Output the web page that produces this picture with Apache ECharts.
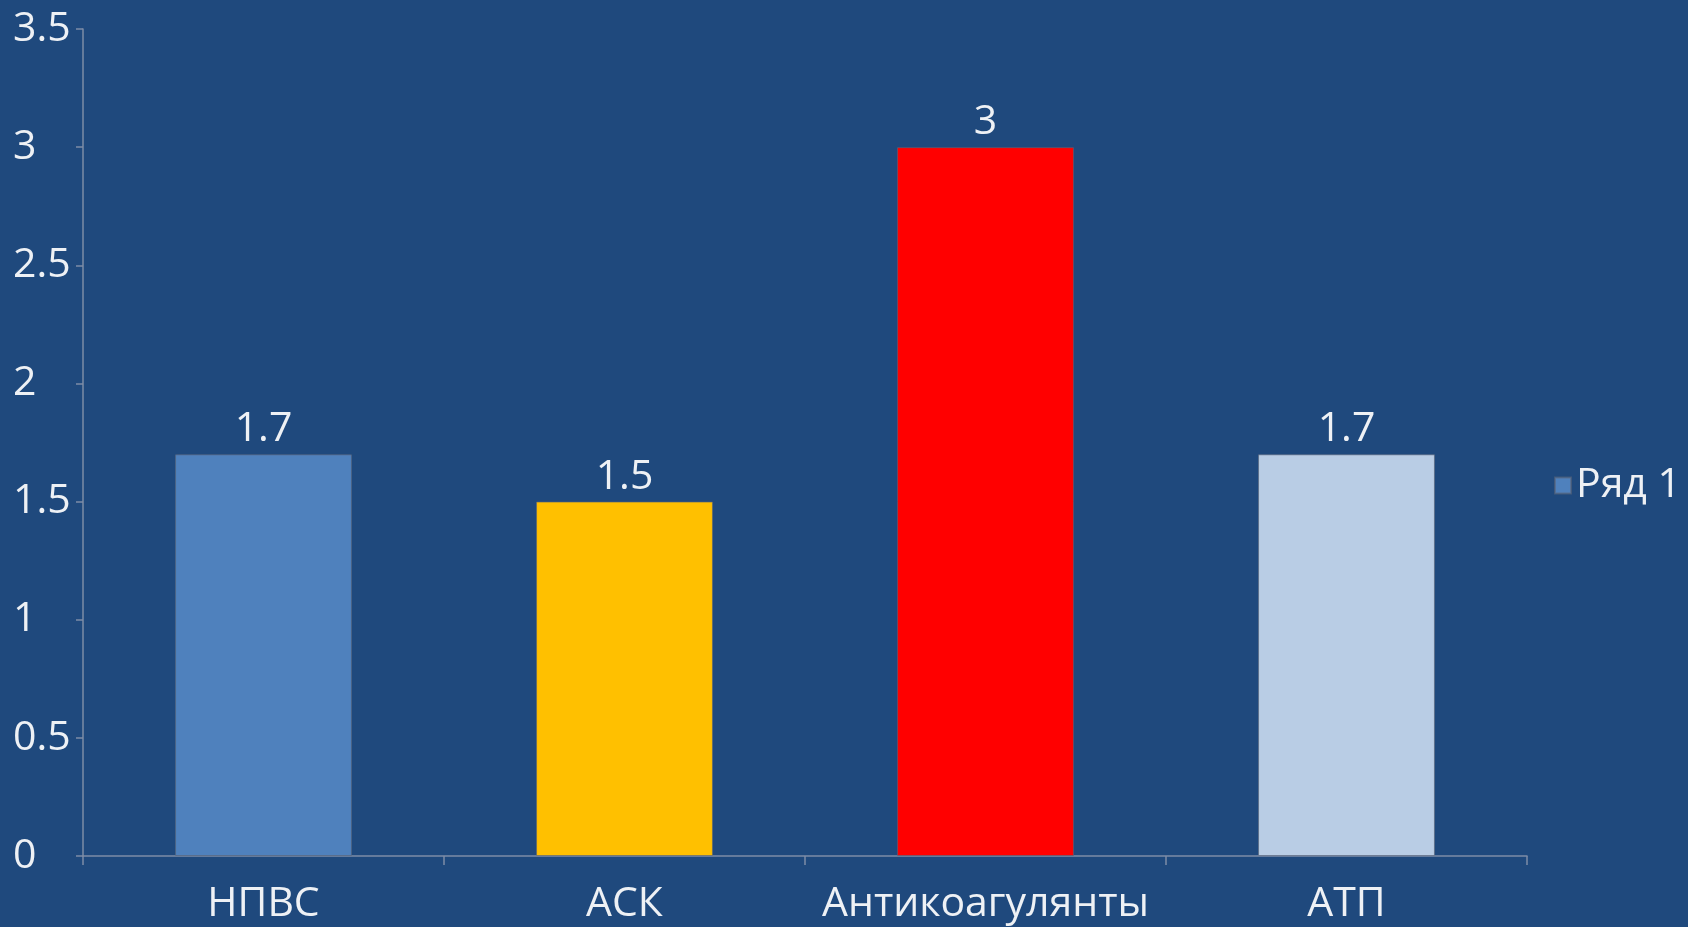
<!DOCTYPE html>
<html>
<head>
<meta charset="utf-8">
<style>
  html, body { margin: 0; padding: 0; background: #1f497d; }
  #chart { width: 1688px; height: 927px; }
</style>
<script src="https://cdn.jsdelivr.net/npm/echarts@6/dist/echarts.min.js"></script>
</head>
<body>
<div id="chart"></div>
<script>
const categories = ['НПВС', 'АСК', 'Антикоагулянты', 'АТП'];
const values = [1.7, 1.5, 3, 1.7];
const barColors = ['#4f81bd', '#ffc000', '#ff0000', '#b9cde5'];
const seriesName = 'Ряд 1';

const textColor = '#eef1f5';
const axisColor = '#7d8ca6';
const fontFamily = '"Open Sans", "Noto Sans", sans-serif';
const fontSize = 41;

const chart = echarts.init(document.getElementById('chart'));
chart.setOption({
  backgroundColor: '#1f497d',
  animation: false,
  grid: { left: 83, right: 161, top: 29, bottom: 71, containLabel: false },
  legend: {
    data: [{ name: seriesName, itemStyle: { color: '#4f81bd' } }],
    left: 1549,
    top: 460,
    itemWidth: 16,
    itemHeight: 16,
    itemGap: 0,
    icon: 'rect',
    textStyle: { color: textColor, fontSize: fontSize, fontFamily: fontFamily }
  },
  xAxis: {
    type: 'category',
    data: categories,
    axisLine: { lineStyle: { color: axisColor, width: 1.5 } },
    axisTick: { show: true, interval: 0, length: 9, lineStyle: { color: axisColor, width: 1.5 } },
    axisLabel: { interval: 0, color: textColor, fontSize: fontSize, fontFamily: fontFamily, margin: 28 }
  },
  yAxis: {
    type: 'value',
    min: 0,
    max: 3.5,
    interval: 0.5,
    splitLine: { show: false },
    axisLine: { show: true, lineStyle: { color: axisColor, width: 1.5 } },
    axisTick: { show: true, length: 7, lineStyle: { color: axisColor, width: 1.5 } },
    axisLabel: {
      color: textColor, fontSize: fontSize, fontFamily: fontFamily,
      align: 'left', margin: 70
    }
  },
  series: [{
    name: seriesName,
    type: 'bar',
    data: values.map((v, i) => ({ value: v, itemStyle: { color: barColors[i] } })),
    barWidth: '49%',
    itemStyle: { borderColor: 'rgba(90,100,120,0.6)', borderWidth: 1 },
    label: {
      show: true,
      position: 'top',
      distance: 4,
      color: textColor,
      fontSize: fontSize,
      fontFamily: fontFamily
    }
  }]
});
</script>
</body>
</html>
